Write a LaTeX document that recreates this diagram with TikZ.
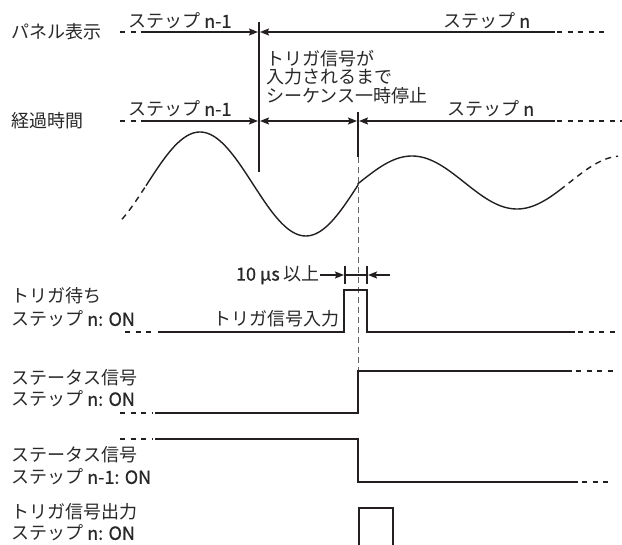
\documentclass[tikz,border=0pt]{standalone}
\usepackage{fontspec}
\setmainfont{Noto Sans CJK JP}
\newfontfamily\semib{Noto Sans CJK JP}[FakeBold=0.8]
\usetikzlibrary{arrows.meta}
\definecolor{ink}{RGB}{35,31,32}
\definecolor{txt}{RGB}{40,40,40}
\definecolor{guide}{RGB}{100,100,100}
\newcommand{\lt}[1]{{\semib #1}}
\begin{document}
\begin{tikzpicture}[x=1pt,y=-1pt,
  lbl/.style={font=\fontsize{18}{22}\selectfont, inner sep=0pt, anchor=west, text=txt},
  ln/.style={draw=ink, line width=1.3pt},
  wave/.style={draw=ink, line width=1.4pt},
  dsh/.style={draw=ink, line width=1.3pt, dash pattern=on 5pt off 5.5pt},
  wdsh/.style={draw=ink, line width=1.4pt, dash pattern=on 6pt off 5pt},
  vguide/.style={draw=guide, line width=1pt, dash pattern=on 6pt off 4pt},
  tip/.tip={Stealth[length=9pt,width=7pt,inset=1.5pt]}
]
\useasboundingbox (0,0) rectangle (622,545);

% ---- labels left
\node[lbl] (panel) at (11,32) {パネル表示};
\node[lbl] (elapsed) at (11,121) {経過時間};
\node[lbl] (waitA) at (11,296) {トリガ待ち};
\node[lbl] (waitB) at (11,319) {ステップ \lt{n: ON}};
\node[lbl] (stnA) at (11,378) {ステータス信号};
\node[lbl] (stnB) at (11,399) {ステップ \lt{n: ON}};
\node[lbl] (stmA) at (11,455) {ステータス信号};
\node[lbl] (stmB) at (11,477) {ステップ \lt{n-1: ON}};
\node[lbl] (outA) at (11,512) {トリガ信号出力};
\node[lbl] (outB) at (11,533) {ステップ \lt{n: ON}};

% ---- row labels
\node[lbl] (r1a) at (128,21) {ステップ \lt{n-1}};
\node[lbl] (r1b) at (443,21) {ステップ \lt{n}};
\node[lbl] (r2a) at (128,109) {ステップ \lt{n-1}};
\node[lbl] (r2b) at (447,109) {ステップ \lt{n}};
\node[lbl, align=left, font=\fontsize{18}{18.5}\selectfont] (pause) at (266,77) {トリガ信号が\\入力されるまで\\シーケンス一時停止};

% ---- coordinates
\coordinate (v1t) at (259,22);  \coordinate (v1b) at (259,172);
\coordinate (v2t) at (358,112); \coordinate (v2m) at (358,157); \coordinate (v2b) at (358,371);

% ---- row 1 (panel)
\draw[dsh] (120,32) -- (143,32);
\draw[ln,-{tip}] (143,32) -- (258,32);
\draw[ln,{tip}-] (260,32) -- (555,32);
\draw[dsh] (557,32) -- (607,32);
\draw[ln] (v1t) -- (v1b);

% ---- row 2 (elapsed)
\draw[dsh] (120,121) -- (143,121);
\draw[ln,-{tip}] (143,121) -- (258,121);
\draw[ln,{tip}-{tip}] (260,121) -- (357,121);
\draw[ln,{tip}-] (359,121) -- (555,121);
\draw[dsh] (557,121) -- (622,121);
\draw[ln] (v2t) -- (v2m);
\draw[vguide] (v2m) -- (v2b);

% ---- wave
\draw[wdsh] plot[domain=122:146, samples=10] (\x, {184-52*cos((\x-200)*1.70132)});
\draw[wave] plot[domain=146:358, samples=90] (\x, {184-52*cos((\x-200)*1.70132)})
  -- plot[domain=358:560, samples=90] (\x, {182.5-26.5*cos((\x-412)*1.714286)});
\draw[wdsh] plot[domain=560:618, samples=20] (\x, {182.5-26.5*cos((\x-412)*1.714286)});

% ---- trigger wait
\draw[dsh] (125,332) -- (155,332);
\draw[ln] (158,332) -- (344,332) -- (344,290) -- (367,290) -- (367,332) -- (575,332);
\draw[dsh] (578,332) -- (617,332);
\node[lbl, anchor=east] (tin) at (340,319) {トリガ信号入力};
\node[lbl, anchor=east] (tenus) at (320,275) {\lt{10 µs} 以上};
\draw[ln,-{tip}] (tenus.east) -- (344,275);
\draw[ln] (345,266) -- (345,284);
\draw[ln] (367,266) -- (367,284);
\draw[ln] (345,275) -- (367,275);
\coordinate (rarr) at (390,275);
\draw[ln,-{tip}] (rarr) -- (368,275);

% ---- status n
\draw[dsh] (120,413) -- (153,413);
\draw[ln] (155,413) -- (358,413) -- (358,371) -- (572,371);
\draw[dsh] (576,371) -- (617,371);

% ---- status n-1
\draw[dsh] (120,439) -- (153,439);
\draw[ln] (155,439) -- (358,439) -- (358,482) -- (578,482);
\draw[dsh] (582,482) -- (612,482);

% ---- trigger output
\draw[ln] (359,546) -- (359,508) -- (393,508) -- (393,546);
\end{tikzpicture}
\end{document}
